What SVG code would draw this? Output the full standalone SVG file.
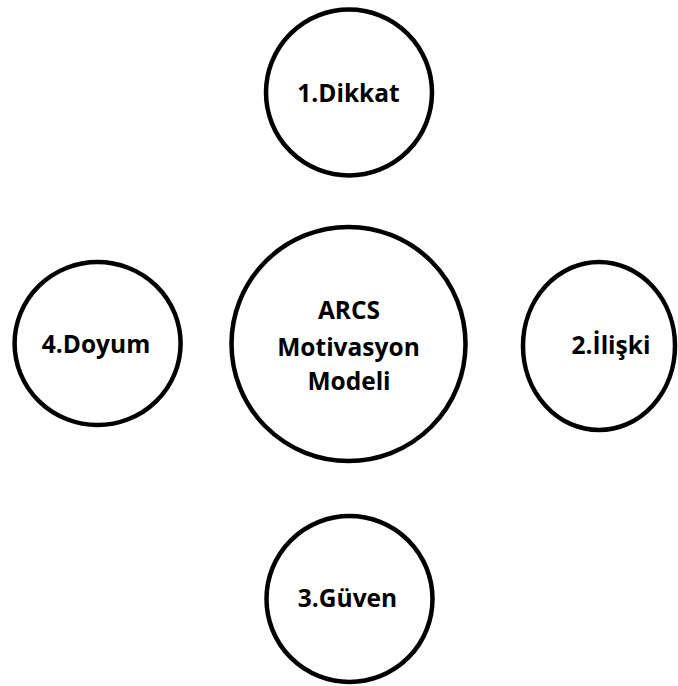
<svg xmlns="http://www.w3.org/2000/svg" width="678" height="686" viewBox="0 0 678 686">
<style>
.n{fill:#fff;stroke:#000;stroke-width:4.5}
.t{font-family:"Open Sans","Liberation Sans",sans-serif;font-weight:bold;font-size:24.5px;fill:#000;text-anchor:middle}
</style>
<rect width="678" height="686" fill="#fff"/>
<g id="connectors"></g>
<g id="n-center">
<circle class="n" cx="348.5" cy="344" r="117"/>
<text class="t" x="349" y="319">ARCS</text>
<text class="t" x="348.5" y="355.5">Motivasyon</text>
<text class="t" x="349" y="390">Modeli</text>
</g>
<g id="n-dikkat">
<circle class="n" cx="349" cy="92.5" r="83"/>
<text class="t" x="348.5" y="102">1.Dikkat</text>
</g>
<g id="n-iliski">
<ellipse class="n" cx="599" cy="346" rx="76" ry="84"/>
<text class="t" x="611" y="354">2.İlişki</text>
</g>
<g id="n-guven">
<circle class="n" cx="349.5" cy="599" r="83"/>
<text class="t" x="347.5" y="607">3.Güven</text>
</g>
<g id="n-doyum">
<ellipse class="n" cx="97.6" cy="343.5" rx="83" ry="81.5"/>
<text class="t" x="96" y="353">4.Doyum</text>
</g>
</svg>
